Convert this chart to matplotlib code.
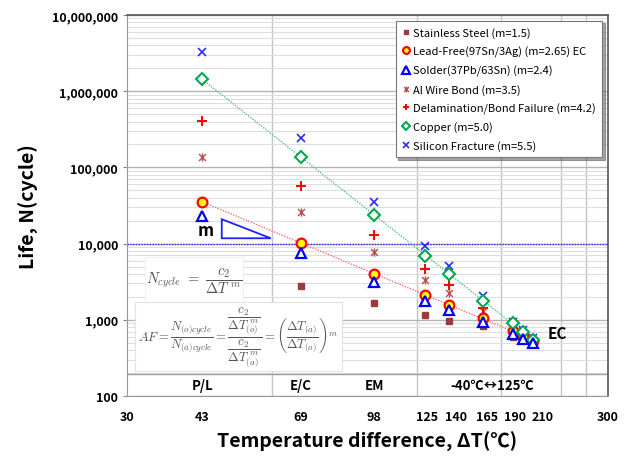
import numpy as np
import matplotlib
matplotlib.use("Agg")
import matplotlib.pyplot as plt
from matplotlib.path import Path
from matplotlib.patches import Rectangle, Polygon
from matplotlib.ticker import FixedLocator, NullLocator, LogLocator, NullFormatter, FuncFormatter

plt.rcParams['font.family'] = ['Noto Sans CJK KR', 'DejaVu Sans']
plt.rcParams['mathtext.fontset'] = 'cm'

# temperature difference (deg C) of each test condition
delta_t = [43, 69, 98, 125, 140, 165, 190, 200, 210]

# cycles to failure
stainless = [5800, 2750, 1650, 1160, 970, 830, 600, 560, 520]
lead_free = [35500, 10200, 4000, 2100, 1560, 1050, 720, 620, 530]
solder = [23200, 7600, 3150, 1780, 1360, 930, 650, 560, 500]
al_wire = [136000, 26300, 7700, 3360, 2230, 1320, 800, 640, 520]
delam = [410000, 56500, 13000, 4640, 2860, 1420, 850, 680, 530]
copper = [1450000, 136000, 23700, 6950, 3990, 1750, 900, 690, 550]
silicon = [3240000, 241000, 34800, 9200, 5030, 2070, 944, 735, 575]

# x tick labels are placed a little right of the data columns, as on the original
x_tick_pos = [30, 43, 69, 98, 126, 145, 168, 192, 219, 300]
x_tick_lab = ["30", "43", "69", "98", "125", "140", "165", "190", "210", "300"]
y_ticks = [100, 1000, 10000, 100000, 1000000, 10000000]
v_grid = [60, 120, 180, 240, 270]
zones = ["P/L", "E/C", "EM", "-40℃↔125℃"]
zone_x = [43, 69, 98, 172]

star = Path([(-1, -1), (1, 1), (-1, 1), (1, -1), (0, -1.2), (0, 1.2)],
            [Path.MOVETO, Path.LINETO, Path.MOVETO, Path.LINETO, Path.MOVETO, Path.LINETO])

fig = plt.figure(figsize=(6.34, 4.64), dpi=100)
ax = fig.add_axes([127 / 634, 67 / 464, 481 / 634, 381 / 464])
ax.set_xscale('log')
ax.set_yscale('log')
ax.set_xlim(30, 300)
ax.set_ylim(100, 10000000)

# grid
ax.yaxis.set_minor_locator(LogLocator(base=10, subs=np.arange(2, 10)))
ax.yaxis.set_minor_formatter(NullFormatter())
ax.grid(True, which='major', axis='y', color='#b4b4b4', lw=1.0, zorder=0)
ax.grid(True, which='minor', axis='y', color='#dedede', lw=0.8, zorder=0)
for v in v_grid:
    ax.axvline(v, color='#c4c4c4', lw=1.0, zorder=0)
ax.tick_params(axis='y', which='minor', length=0)

ax.xaxis.set_major_locator(FixedLocator(x_tick_pos))
ax.xaxis.set_minor_locator(NullLocator())
ax.set_xticklabels(x_tick_lab)
ax.yaxis.set_major_locator(FixedLocator(y_ticks))
ax.yaxis.set_major_formatter(FuncFormatter(lambda v, p: "{:,}".format(int(v))))
ax.tick_params(axis='both', which='major', labelsize=9, length=3, color='#888888')
ax.tick_params(axis='x', pad=10, length=0)
for lab in ax.get_xticklabels() + ax.get_yticklabels():
    lab.set_fontweight('bold')

for side in ['left', 'bottom']:
    ax.spines[side].set_color('#999999')
for side in ['top', 'right']:
    ax.spines[side].set_color('#555555')
    ax.spines[side].set_linewidth(1.2)

# 10,000 cycle reference
ax.axhline(10000, color='#2a2aff', lw=1.0, ls=(0, (1, 1)), zorder=2)

# power-law trend lines
xs = np.array([delta_t[0], delta_t[-1]], dtype=float)
for ser, col in [(lead_free, '#ff7070'), (copper, '#55c27a')]:
    k, b = np.polyfit(np.log10(delta_t), np.log10(ser), 1)
    ax.plot(xs, 10 ** (b + k * np.log10(xs)), color=col, lw=1.0, ls=(0, (1, 1)), zorder=2)

ax.plot(delta_t, stainless, ls='none', marker='s', ms=5, color='#9b3b3b', label='Stainless Steel (m=1.5)', zorder=3)
ax.plot(delta_t, lead_free, ls='none', marker='o', ms=7, mfc='#ffff00', mec='#ff0000', mew=1.6,
        label='Lead-Free(97Sn/3Ag) (m=2.65) EC', zorder=4)
ax.plot(delta_t, solder, ls='none', marker='^', ms=7.5, mfc='white', mec='#0000ff', mew=1.6,
        label='Solder(37Pb/63Sn) (m=2.4)', zorder=5)
ax.plot(delta_t, al_wire, ls='none', marker=star, ms=6, color='#b5524f', mew=1.0,
        label='Al Wire Bond (m=3.5)', zorder=3)
ax.plot(delta_t, delam, ls='none', marker='+', ms=7, color='#ff0000', mew=1.4,
        label='Delamination/Bond Failure (m=4.2)', zorder=3)
ax.plot(delta_t, copper, ls='none', marker='D', ms=6.5, mfc='white', mec='#00a84f', mew=1.5,
        label='Copper (m=5.0)', zorder=4)
ax.plot(delta_t, silicon, ls='none', marker='x', ms=6, color='#2a2aff', mew=1.2,
        label='Silicon Fracture (m=5.5)', zorder=3)

leg = ax.legend(loc='upper right', bbox_to_anchor=(0.987, 0.985), borderaxespad=0, fontsize=8,
                frameon=True, fancybox=False, shadow=True, labelspacing=0.7, handletextpad=0.2,
                handlelength=0.8, borderpad=0.55, markerscale=0.7)
leg.get_frame().set_edgecolor('#777777')
leg.get_frame().set_linewidth(0.8)
leg.set_zorder(10)

# slope triangle
tri = Polygon([(0.197, 0.464), (0.197, 0.414), (0.299, 0.414)], closed=True, fill=False,
              edgecolor='#2020ff', lw=1.3, transform=ax.transAxes, zorder=6)
ax.add_patch(tri)
ax.text(0.163, 0.437, 'm', transform=ax.transAxes, fontsize=12, fontweight='bold', ha='center', va='center', zorder=6)
ax.text(0.894, 0.166, 'EC', transform=ax.transAxes, fontsize=11, fontweight='bold', ha='center', va='center', zorder=6)

# formula boxes
ax.add_patch(Rectangle((0.037, 0.247), 0.205, 0.117, transform=ax.transAxes, facecolor='white',
                       edgecolor='#eeeeee', lw=0.6, zorder=7))
ax.add_patch(Rectangle((0.017, 0.066), 0.43, 0.181, transform=ax.transAxes, facecolor='white',
                       edgecolor='#e6e2d8', lw=0.8, zorder=7))
ax.text(0.14, 0.303, r'$N_{cycle}\ =\ \dfrac{c_2}{\Delta T^{\ m}}$', transform=ax.transAxes,
        fontsize=10.5, color='#555555', ha='center', va='center', zorder=8)
ax.text(0.232, 0.157,
        r'$AF = \dfrac{N_{(o)cycle}}{N_{(a)cycle}} = \dfrac{\dfrac{c_2}{\Delta T_{(o)}^{\ m}}}{\dfrac{c_2}{\Delta T_{(a)}^{\ m}}}'
        r' = \left(\dfrac{\Delta T_{(a)}}{\Delta T_{(o)}}\right)^m$',
        transform=ax.transAxes, fontsize=9.2, color='#555555', ha='center', va='center', zorder=8)

# condition zones along the bottom
ax.plot([0, 1], [0.058, 0.058], transform=ax.transAxes, color='#a0a0a0', lw=1.0, zorder=2)
for zx, zl in zip(zone_x, zones):
    ax.text(zx, 0.03, zl, transform=ax.get_xaxis_transform(), fontsize=9.5, fontweight='bold',
            ha='center', va='center', zorder=6)

ax.set_xlabel('Temperature difference, ΔT(℃)', fontsize=14, fontweight='bold', labelpad=6)
ax.set_ylabel('Life, N(cycle)', fontsize=14, fontweight='bold', labelpad=9)

fig.savefig('out.png', dpi=100)
